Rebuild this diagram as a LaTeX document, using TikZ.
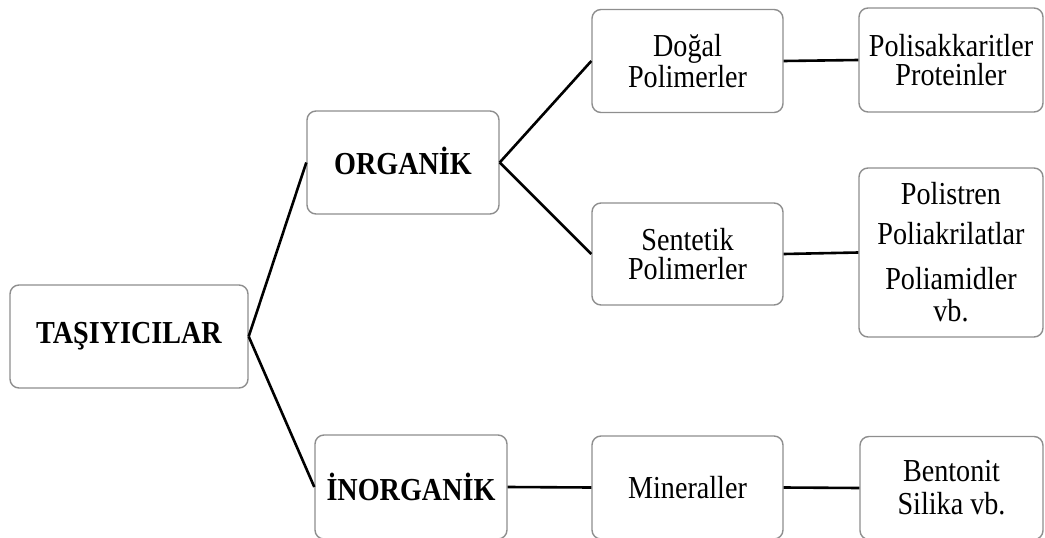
\documentclass[tikz,border=0pt]{standalone}
\usepackage{fontspec}
\setmainfont{Liberation Serif}[FakeStretch=0.88]
\usepackage{tikz}
\usetikzlibrary{positioning}
\definecolor{boxgray}{HTML}{8E8E8E}

\begin{document}
\begin{tikzpicture}[x=1pt,y=-1pt,
  box/.style={draw=boxgray,line width=1.4pt,rounded corners=9pt,align=center,inner sep=0pt,
    minimum width=192pt,minimum height=103pt,font=\fontsize{32}{29}\selectfont},
  head/.style={box,font=\fontsize{32}{32}\selectfont\bfseries},
  link/.style={line width=2.6pt,black}]
  \useasboundingbox (0,0) rectangle (1045,538);
  \clip (0,0) rectangle (1045,538);
  % root and the two classes
  \node[head,minimum width=238pt] (tas) at (129,336.5) {TAŞIYICILAR};
  \node[head] (org) at (403,162.5) {\raisebox{3pt}{ORGANİK}};
  \node[head,minimum height=104pt] (inorg) at (411,487) {İNORGANİK};
  % second level
  \node[box,minimum width=191pt] (dogal) at (687.5,61) {Doğal\\Polimerler};
  \node[box,minimum width=191pt,minimum height=102pt] (sent) at (687.5,254) {Sentetik\\Polimerler};
  \node[box,minimum width=191pt] (mine) at (687.5,487.5) {Mineraller};
  % examples
  \node[box,minimum width=184pt,minimum height=104pt] (pskk) at (951,60) {Polisakkaritler\\Proteinler};
  \node[box,minimum width=184pt,minimum height=169pt,font=\fontsize{32}{32}\selectfont] (pstr) at (951,252.5)
    {Polistren\\[8pt]Poliakrilatlar\\[13pt]Poliamidler\\vb.};
  \node[box,minimum width=183pt,font=\fontsize{32}{33}\selectfont] (bent) at (951.5,488) {Bentonit\\Silika vb.};
  \draw[link] (tas.east) -- (org.west);
  \draw[link] (tas.east) -- (inorg.west);
  \draw[link] (org.east) -- (dogal.west);
  \draw[link] (org.east) -- (sent.west);
  \draw[link] (inorg.east) -- (mine.west);
  \draw[link] (dogal.east) -- (pskk.west);
  \draw[link] (sent.east) -- (pstr.west);
  \draw[link] (mine.east) -- (bent.west);
\end{tikzpicture}
\end{document}
